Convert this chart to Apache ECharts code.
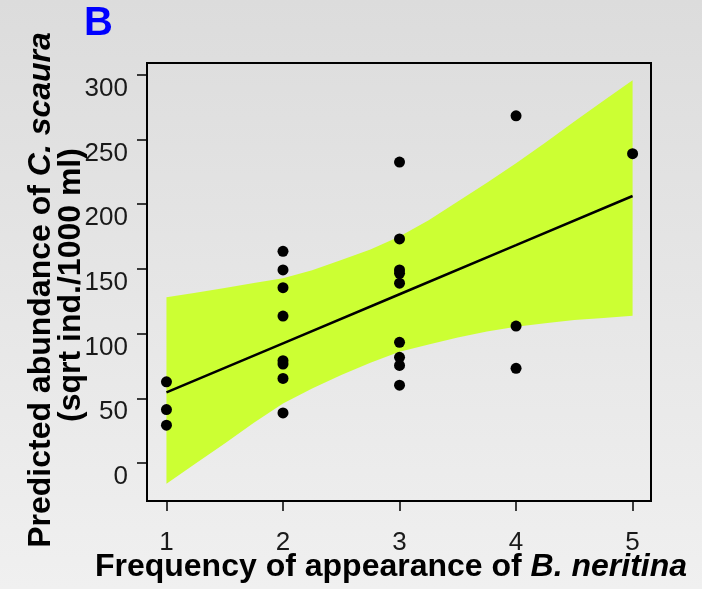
<!DOCTYPE html>
<html>
<head>
<meta charset="utf-8">
<script src="https://cdn.jsdelivr.net/npm/echarts@6/dist/echarts.min.js"></script>
<style>
  html, body { margin: 0; padding: 0; }
  #chart { width: 702px; height: 589px; }
</style>
</head>
<body>
<div id="chart"></div>
<script>
// observed points (frequency, predicted abundance)
const pointX = [1, 1, 1, 2, 2, 2, 2, 2, 2, 2, 2, 3, 3, 3, 3, 3, 3, 3, 3, 3, 4, 4, 4, 5];
const pointY = [62.7, 41.3, 29.2, 163.6, 149.2, 135.5, 113.5, 79, 76.4, 65.3, 38.7,
                232.5, 173.1, 149.2, 146.6, 138.9, 93.2, 81.6, 75.4, 60.1, 268.3, 105.8, 73.1, 239];

// fitted line
const fitX = [1, 2, 3, 4, 5];
const fitY = [54.5, 92.4, 130.4, 168.3, 206.3];

// confidence band
const bandX = [1, 1.25, 1.5, 1.75, 2, 2.25, 2.5, 2.75, 3, 3.25, 3.5, 3.75, 4, 4.25, 4.5, 4.75, 5];
const bandLower = [-16, -0.5, 15, 31, 46, 57.5, 67.9, 77.5, 85.9, 91.5, 97, 101.5, 105.3, 108, 110.4, 112, 113.8];
const bandUpper = [128, 131.5, 135.2, 139, 142.7, 149, 156.9, 165, 175, 187.5, 202.1, 216.5, 231.7, 247.5, 263.9, 280, 295.7];

const xTicks = [1, 2, 3, 4, 5];
const yTicks = [0, 50, 100, 150, 200, 250, 300];

const chart = echarts.init(document.getElementById('chart'));

const font = 'Liberation Sans';

function renderBand(params, api) {
    if (params.dataIndex !== 0) return null;
    const pts = [];
    for (let i = 0; i < bandX.length; i++) pts.push(api.coord([bandX[i], bandUpper[i]]));
    for (let i = bandX.length - 1; i >= 0; i--) pts.push(api.coord([bandX[i], bandLower[i]]));
    return {
        type: 'polygon',
        shape: { points: pts },
        style: { fill: '#ccff33', stroke: null }
    };
}

const option = {
    animation: false,
    backgroundColor: {
        type: 'linear', x: 0, y: 0, x2: 0, y2: 1,
        colorStops: [
            { offset: 0, color: '#dcdcdc' },
            { offset: 1, color: '#f0f0f0' }
        ]
    },
    grid: {
        left: 147, right: 51, top: 63, bottom: 88,
        show: true,
        borderColor: '#000',
        borderWidth: 2,
        backgroundColor: 'transparent'
    },
    xAxis: {
        type: 'value',
        min: 0.833,
        max: 5.158,
        axisLine: { show: false, onZero: false },
        splitLine: { show: false },
        axisTick: {
            show: true, length: 10, inside: false,
            customValues: xTicks,
            lineStyle: { color: '#000', width: 1.5 }
        },
        axisLabel: {
            customValues: xTicks,
            margin: 29,
            fontFamily: font, fontSize: 26, color: '#1a1a1a'
        }
    },
    yAxis: {
        type: 'value',
        min: -29.4,
        max: 309.1,
        axisLine: { show: false, onZero: false },
        splitLine: { show: false },
        axisTick: {
            show: true, length: 10, inside: false,
            customValues: yTicks,
            lineStyle: { color: '#000', width: 1.5 }
        },
        axisLabel: {
            customValues: yTicks,
            margin: 19,
            verticalAlign: 'top',
            lineHeight: 28,
            fontFamily: font, fontSize: 26, color: '#1a1a1a'
        }
    },
    graphic: [
        {
            type: 'text', left: 84, top: 4,
            style: { text: 'B', font: 'bold 40px "Liberation Sans"', fill: '#0000ff' }
        },
        {
            type: 'text', x: 41, y: 290, rotation: Math.PI / 2,
            style: {
                text: '{b|Predicted abundance of }{i|C. scaura}',
                align: 'center', verticalAlign: 'middle',
                rich: {
                    b: { font: 'bold 32px "Liberation Sans"', fill: '#000' },
                    i: { font: 'italic bold 32px "Liberation Sans"', fill: '#000' }
                }
            }
        },
        {
            type: 'text', x: 71, y: 285, rotation: Math.PI / 2,
            style: {
                text: '(sqrt ind./1000 ml)',
                align: 'center', verticalAlign: 'middle',
                font: 'bold 32px "Liberation Sans"', fill: '#000'
            }
        },
        {
            type: 'text', x: 391, y: 567,
            style: {
                text: '{b|Frequency of appearance of }{i|B. neritina}',
                align: 'center', verticalAlign: 'middle',
                rich: {
                    b: { font: 'bold 32px "Liberation Sans"', fill: '#000' },
                    i: { font: 'italic bold 32px "Liberation Sans"', fill: '#000' }
                }
            }
        }
    ],
    series: [
        {
            name: 'band',
            type: 'custom',
            renderItem: renderBand,
            data: bandX.map((x, i) => [x, bandLower[i], bandUpper[i]]),
            encode: { x: 0, y: [1, 2] },
            z: 1
        },
        {
            name: 'fit',
            type: 'line',
            symbol: 'none',
            lineStyle: { color: '#000', width: 2.5 },
            data: fitX.map((x, i) => [x, fitY[i]]),
            z: 3
        },
        {
            name: 'points',
            type: 'scatter',
            symbolSize: 11,
            itemStyle: { color: '#000', opacity: 1 },
            data: pointX.map((x, i) => [x, pointY[i]]),
            z: 4
        }
    ]
};

chart.setOption(option);
</script>
</body>
</html>
